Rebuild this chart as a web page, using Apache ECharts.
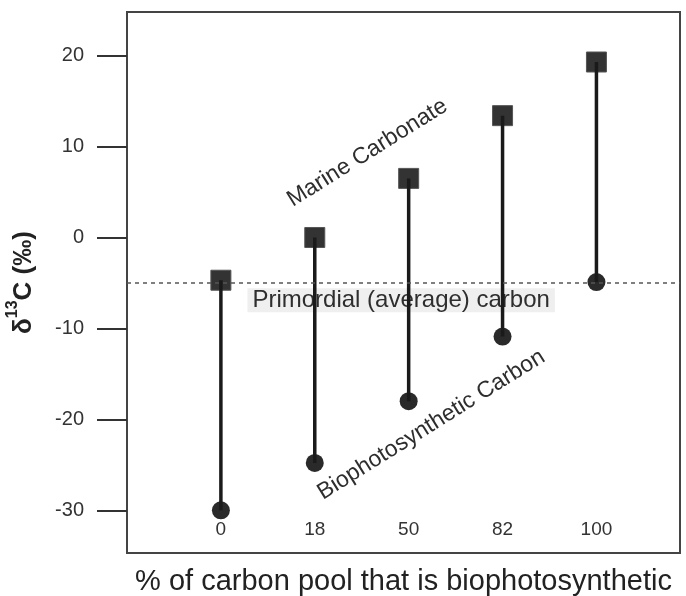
<!DOCTYPE html>
<html>
<head>
<meta charset="utf-8">
<script src="https://cdn.jsdelivr.net/npm/echarts@6/dist/echarts.min.js"></script>
<style>
html,body{margin:0;padding:0;background:#fff;}
#chart{width:686px;height:596px;}
</style>
</head>
<body>
<div id="chart"></div>
<script>
// ---- data ----
const categories = ['0', '18', '50', '82', '100'];
const marineCarbonate = [-4.7, 0, 6.5, 13.4, 19.3];
const biophotosyntheticCarbon = [-30, -24.8, -18, -10.9, -4.9];
const primordialCarbon = -5;
const yTickValues = [-30, -20, -10, 0, 10, 20];
const xTickValues = [0, 1, 2, 3, 4];

// annotation anchors in data units [category index, delta13C]
const marineLabelAt = [1.56, 9.3];
const bioLabelAt = [2.24, -20.6];
const primordialLabelAt = [1.92, -6.9];

const FONT = '"Liberation Sans", Arial, sans-serif';
const chart = echarts.init(document.getElementById('chart'));

const squares = marineCarbonate.map((v, i) => [i, v]);
const circles = biophotosyntheticCarbon.map((v, i) => [i, v]);
const stems = categories.map((c, i) => [i, biophotosyntheticCarbon[i], marineCarbonate[i]]);

chart.setOption({
  animation: false,
  grid: {
    left: 127, right: 6, top: 12, bottom: 43,
    containLabel: false, outerBoundsMode: 'none',
    show: true, borderColor: '#444', borderWidth: 2, backgroundColor: '#fff'
  },
  xAxis: {
    type: 'value',
    min: -1.0, max: 4.89,
    axisLine: { show: false, onZero: false },
    axisTick: { show: false },
    splitLine: { show: false },
    axisLabel: {
      inside: true, margin: 14,
      customValues: xTickValues,
      formatter: v => categories[Math.round(v)] ?? '',
      color: '#333', fontSize: 19, fontFamily: FONT
    },
    name: '% of carbon pool that is biophotosynthetic',
    nameLocation: 'middle', nameGap: 14,
    nameTextStyle: { color: '#222', fontSize: 29, fontFamily: FONT, verticalAlign: 'top' }
  },
  yAxis: {
    type: 'value',
    min: -34.7, max: 24.8,
    axisLine: { show: false, onZero: false },
    splitLine: { show: false },
    axisTick: {
      show: true, length: 30, customValues: yTickValues,
      lineStyle: { color: '#333', width: 2 }
    },
    axisLabel: {
      margin: 43, customValues: yTickValues,
      color: '#333', fontSize: 20, fontFamily: FONT
    },
    name: '{n|δ}{s|13}{n|C (‰)}',
    nameLocation: 'middle', nameRotate: 90, nameGap: 90,
    nameTextStyle: {
      rich: {
        n: { fontSize: 26, fontWeight: 'bold', color: '#222', fontFamily: FONT, verticalAlign: 'bottom', lineHeight: 32 },
        s: { fontSize: 16, fontWeight: 'bold', color: '#222', fontFamily: FONT, verticalAlign: 'top', lineHeight: 32 }
      }
    }
  },
  series: [
    {
      name: 'annotations',
      type: 'scatter',
      symbolSize: 0,
      z: 1,
      silent: true,
      itemStyle: { opacity: 1 },
      data: [
        { value: marineLabelAt, label: { formatter: 'Marine Carbonate', rotate: 32 } },
        { value: bioLabelAt, label: { formatter: 'Biophotosynthetic Carbon', rotate: 32 } },
        {
          value: primordialLabelAt,
          label: {
            formatter: 'Primordial (average) carbon', fontSize: 24,
            backgroundColor: '#efefef', padding: [0, 5, 0, 5]
          }
        }
      ],
      label: {
        show: true, position: 'inside',
        color: '#2e2e2e', fontSize: 23, fontFamily: FONT
      },
      markLine: {
        silent: true, symbol: 'none',
        label: { show: false },
        lineStyle: { color: '#555', width: 1.5, type: [4, 4], opacity: 1 },
        data: [{ yAxis: primordialCarbon }]
      }
    },
    {
      name: 'Marine Carbonate',
      type: 'scatter',
      symbol: 'rect', symbolSize: 20,
      z: 3,
      itemStyle: { color: '#333', borderColor: '#555', borderWidth: 1, opacity: 1 },
      data: squares
    },
    {
      name: 'Biophotosynthetic Carbon',
      type: 'scatter',
      symbol: 'circle', symbolSize: 18,
      z: 3,
      itemStyle: { color: '#2a2a2a', opacity: 1 },
      data: circles
    },
    {
      name: 'stems',
      type: 'custom',
      z: 4,
      data: stems,
      renderItem: function (params, api) {
        const a = api.coord([api.value(0), api.value(1)]);
        const b = api.coord([api.value(0), api.value(2)]);
        return {
          type: 'line',
          shape: { x1: a[0], y1: a[1], x2: b[0], y2: b[1] },
          style: { stroke: '#1a1a1a', lineWidth: 3.5 }
        };
      }
    }
  ]
});
</script>
</body>
</html>
